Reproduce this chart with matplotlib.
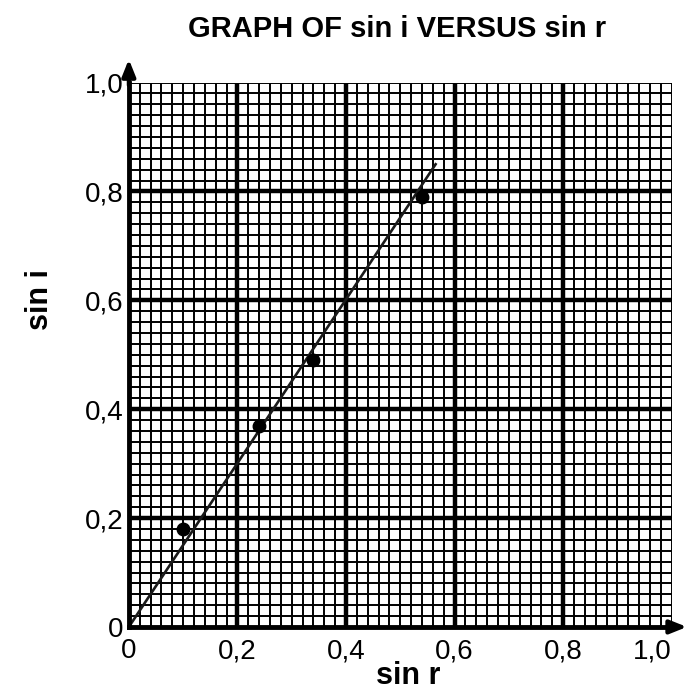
import matplotlib.pyplot as plt
import numpy as np

plt.rcParams['font.family'] = ['Liberation Sans', 'DejaVu Sans']

# measured points (sin r, sin i)
sin_r = [0.10, 0.24, 0.34, 0.54]
sin_i = [0.18, 0.37, 0.49, 0.79]

# line of best fit, drawn through the origin
fit_x = [0.0, 0.565]
fit_y = [0.0, 0.85]

tick_vals = [0.0, 0.2, 0.4, 0.6, 0.8, 1.0]
tick_labels = ["0", "0,2", "0,4", "0,6", "0,8", "1,0"]
major_lines = [0.2, 0.4, 0.6, 0.8]
minor_lines = np.arange(0.02, 1.001, 0.02)

fig = plt.figure(figsize=(6.89, 6.97), dpi=100)
ax = fig.add_axes([0.187, 0.1005, 0.788, 0.781])
ax.set_xlim(0, 1.0)
ax.set_ylim(0, 1.0)

# graph paper
for v in minor_lines:
    ax.axvline(v, color='black', lw=1.4, zorder=1)
    ax.axhline(v, color='black', lw=1.4, zorder=1)
for v in major_lines:
    ax.axvline(v, color='black', lw=3.2, zorder=2)
    ax.axhline(v, color='black', lw=3.2, zorder=2)

ax.plot(fit_x, fit_y, color='#1a1a1a', lw=1.9, zorder=3)
ax.plot(sin_r, sin_i, 'o', color='black', markersize=9, zorder=4)

for s in ['top', 'right']:
    ax.spines[s].set_visible(False)
for s in ['left', 'bottom']:
    ax.spines[s].set_linewidth(3.5)
    ax.spines[s].set_zorder(5)

# axis arrows
ax.annotate('', xy=(0, 1.048), xytext=(0, 0.99), xycoords='axes fraction',
            arrowprops=dict(arrowstyle='-|>,head_length=1.0,head_width=0.4',
                            color='black', lw=3), annotation_clip=False)
ax.annotate('', xy=(1.033, 0), xytext=(0.99, 0), xycoords='axes fraction',
            arrowprops=dict(arrowstyle='-|>,head_length=1.0,head_width=0.4',
                            color='black', lw=3), annotation_clip=False)

ax.set_xticks(tick_vals)
ax.set_xticklabels(tick_labels)
ax.set_yticks(tick_vals)
ax.set_yticklabels(tick_labels)
ax.tick_params(length=0, labelsize=20)
ax.tick_params(axis='x', pad=8)
ax.tick_params(axis='y', pad=4)
# keep the last x label inside the picture
ax.get_xticklabels()[-1].set_horizontalalignment('right')
ax.get_xticklabels()[-1].set_x(1.0)

fig.text(408 / 689, 1 - 676 / 697, "sin r", fontsize=22, fontweight='bold',
         ha='center', va='center')
fig.text(40 / 689, 1 - 300 / 697, "sin i", fontsize=22, fontweight='bold',
         ha='center', va='center', rotation=90)
fig.text(397 / 689, 1 - 29 / 697, "GRAPH OF sin i VERSUS sin r", fontsize=21,
         fontweight='bold', ha='center', va='center')

plt.savefig('out.png', dpi=100)
